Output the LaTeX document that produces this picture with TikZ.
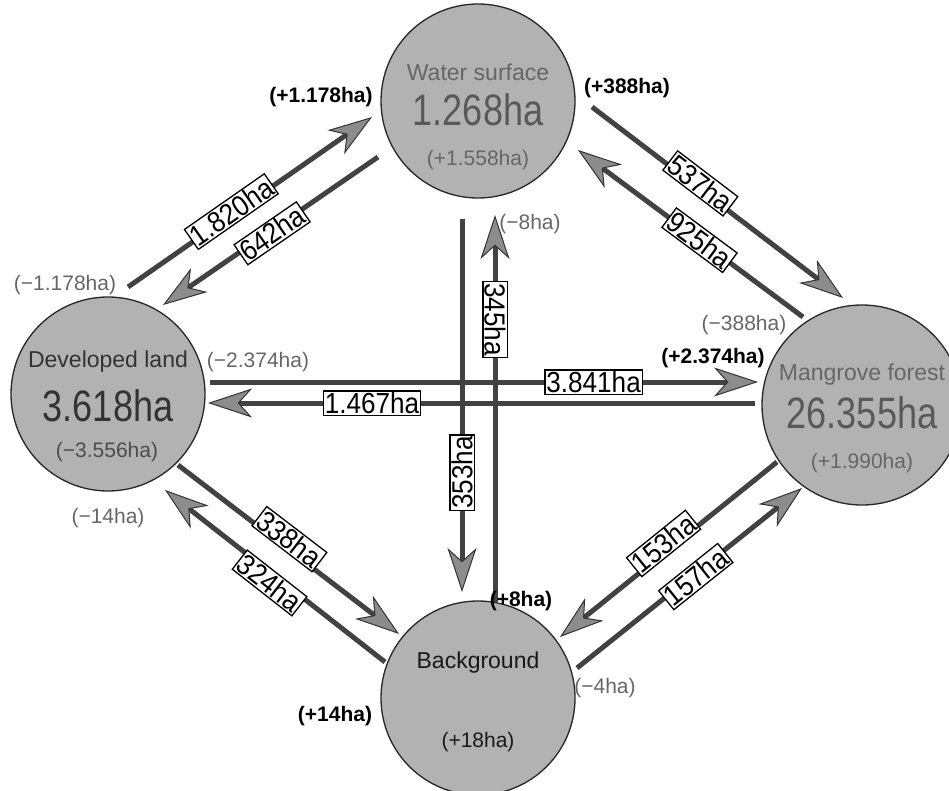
\documentclass[tikz,border=0pt]{standalone}
\usepackage{fontspec}
\usepackage{graphicx}
\setmainfont{Liberation Sans}
\usetikzlibrary{arrows.meta}
% condensed digits, as in the printed figure
\newcommand{\bignum}[1]{\scalebox{0.82}[1]{#1}}
\newcommand{\boxnum}[1]{\scalebox{0.9}[1]{#1}}

\begin{document}
\begin{tikzpicture}[x=1pt,y=-1pt,
  area/.style={circle, draw=black!85, line width=1.3pt, fill=black!30,
    minimum size=194pt, inner sep=0pt},
  flow/.style={draw=black!74, line width=5pt,
    -{Stealth[length=44pt,width=29pt,inset=13pt,line width=1pt,fill=black!45,color=black!80]}},
  qty/.style={draw=black, line width=1.3pt, fill=white, inner sep=1.5pt,
    font=\fontsize{29}{29}\selectfont, text=black},
  areaname/.style={font=\fontsize{23}{23}\selectfont},
  bigval/.style={font=\fontsize{44}{44}\selectfont},
  netval/.style={font=\fontsize{21}{21}\selectfont},
  gain/.style={font=\fontsize{21}{21}\selectfont\bfseries, text=black},
  loss/.style={font=\fontsize{21}{21}\selectfont, text=black!60},
]
\useasboundingbox (0,0) rectangle (949,791);

% land-cover classes
\node[area] (water) at (478,101) {};
\node[area] (dev)   at (108,394) {};
\node[area, minimum size=200pt] (mang) at (862,405) {};
\node[area] (bg)    at (478,698) {};

\node[areaname, text=black!60] (waterName) at (478,72)  {Water surface};
\node[bigval,   text=black!65] (waterVal)  at (478,110) {\bignum{1.268ha}};
\node[netval,   text=black!60] (waterNet)  at (478,160) {(+1.558ha)};

\node[areaname, text=black!80] (devName) at (108,362) {Developed land};
\node[bigval,   text=black!80] (devVal)  at (108,406) {\bignum{3.618ha}};
\node[netval,   text=black!70] (devNet)  at (107,452) {(−3.556ha)};

\node[areaname, text=black!60] (mangName) at (862,375) {Mangrove forest};
\node[bigval,   text=black!65] (mangVal)  at (862,413) {\bignum{26.355ha}};
\node[netval,   text=black!60] (mangNet)  at (862,463) {(+1.990ha)};

\node[areaname, text=black!90] (bgName) at (478,663) {Background};
\node[netval,   text=black!90] (bgNet)  at (478,742) {(+18ha)};

% flow end points
\coordinate (dw1) at (128,287); \coordinate (dw2) at (372,117);
\coordinate (wd1) at (378,157); \coordinate (wd2) at (163,305);
\coordinate (wm1) at (592,107); \coordinate (wm2) at (843,298);
\coordinate (mw1) at (803,317); \coordinate (mw2) at (578,150);
\coordinate (dm1) at (210,382); \coordinate (dm2) at (758,382);
\coordinate (md1) at (755,403); \coordinate (md2) at (208,403);
\coordinate (wb1) at (462,219); \coordinate (wb2) at (462,592);
\coordinate (bw1) at (495,602); \coordinate (bw2) at (495,215);
\coordinate (db1) at (178,465); \coordinate (db2) at (399,634);
\coordinate (bd1) at (385,662); \coordinate (bd2) at (165,490);
\coordinate (mb1) at (777,462); \coordinate (mb2) at (560,637);
\coordinate (bm1) at (577,668); \coordinate (bm2) at (802,488);

% transitions
\draw[flow] (dw1) -- node[qty, sloped, pos=.43, above=-10pt] (q1) {\boxnum{1.820ha}} (dw2);
\draw[flow] (wd1) -- node[qty, sloped, pos=.50, below=-10pt] (q2) {\boxnum{642ha}} (wd2);
\draw[flow] (wm1) -- node[qty, sloped, pos=.42, above=-8pt] (q3) {\boxnum{537ha}} (wm2);
\draw[flow] (mw1) -- node[qty, sloped, pos=.46] (q4) {\boxnum{925ha}} (mw2);
\draw[flow] (wb1) -- node[qty, rotate=90, pos=.68] (q7) {\boxnum{353ha}} (wb2);
\draw[flow] (bw1) -- node[qty, rotate=-90, pos=.73] (q8) {\boxnum{345ha}} (bw2);
\draw[flow] (dm1) -- node[qty, pos=.70] (q5) {\boxnum{3.841ha}} (dm2);
\draw[flow] (md1) -- node[qty, pos=.70] (q6) {\boxnum{1.467ha}} (md2);
\draw[flow] (db1) -- node[qty, sloped, pos=.48, above=-4pt] (q9) {\boxnum{338ha}} (db2);
\draw[flow] (bd1) -- node[qty, sloped, pos=.50, below=-4pt] (q10) {\boxnum{324ha}} (bd2);
\draw[flow] (mb1) -- node[qty, sloped, pos=.50, above=-5pt] (q11) {\boxnum{153ha}} (mb2);
\draw[flow] (bm1) -- node[qty, sloped, pos=.52, below=-10pt] (q12) {\boxnum{157ha}} (bm2);

% net exchange with each neighbour
\node[gain] (g1) at (321,97)  {(+1.178ha)};
\node[gain] (g2) at (627,88)  {(+388ha)};
\node[gain] (g3) at (713,358) {(+2.374ha)};
\node[gain] (g4) at (521,601) {(+8ha)};
\node[gain] (g5) at (335,716) {(+14ha)};
\node[loss] (l1) at (65,285)  {(−1.178ha)};
\node[loss] (l2) at (530,224) {(−8ha)};
\node[loss] (l3) at (258,362) {(−2.374ha)};
\node[loss] (l4) at (744,325) {(−388ha)};
\node[loss] (l5) at (108,518) {(−14ha)};
\node[loss] (l6) at (605,688) {(−4ha)};
\end{tikzpicture}
\end{document}
